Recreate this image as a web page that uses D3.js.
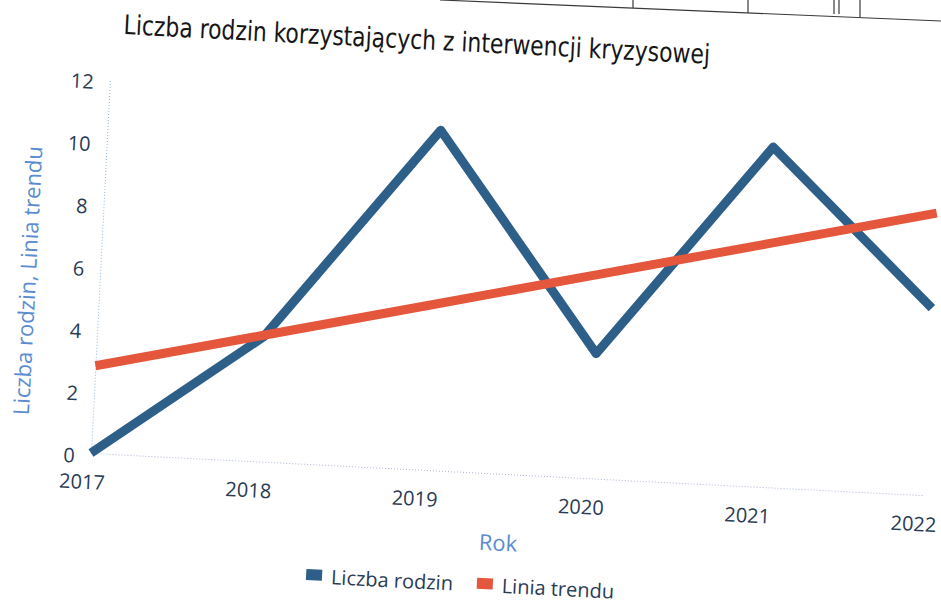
<!DOCTYPE html>
<html>
<head>
<meta charset="utf-8">
<script src="https://cdn.jsdelivr.net/npm/d3@7"></script>
<style>
  body { margin: 0; background: #fff; }
  svg { display: block; }
  .tick-label { font-family: "Open Sans", sans-serif; font-size: 20px; fill: #2a3b55; }
  .axis-label { font-family: "Open Sans", sans-serif; font-size: 22px; fill: #5b8bd0; }
  .title { font-family: "Liberation Sans Narrow", "DejaVu Sans Condensed", sans-serif; font-size: 27px; fill: #161616; }
  .legend-text { font-family: "Open Sans", sans-serif; font-size: 20px; fill: #2a3b55; }
</style>
</head>
<body>
<svg id="chart" width="941" height="606"></svg>
<script>
const YEARS = ["2017", "2018", "2019", "2020", "2021", "2022"];
const FAMILIES = [0, 4, 10.9, 4, 10.9, 6];
const TREND = [2.8, 4.05, 5.3, 6.55, 7.8, 9.05];
const Y_TICKS = [0, 2, 4, 6, 8, 10, 12];
const SERIES_NAMES = ["Liczba rodzin", "Linia trendu"];
const SERIES_COLORS = ["#2d5f88", "#e4573d"];

const ORIGIN = {x: 91, y: 453};   // page position of 2017 / 0
const TILT = 2.9;                  // the scanned sheet is turned slightly clockwise
const PLOT_WIDTH = 832.5;
const PLOT_HEIGHT = 374.4;

let x = d3.scalePoint().domain(YEARS).range([0, PLOT_WIDTH]);
let y = d3.scaleLinear().domain([0, 12]).range([0, -PLOT_HEIGHT]);

let svg = d3.select("#chart");

let chart = svg.append("g")
               .attr("transform", `translate(${ORIGIN.x},${ORIGIN.y}) rotate(${TILT})`);


/*
  Bits of the table printed above the chart on the scanned page.
*/
const buildPageEdge = () => {
  let edge = svg.append("g")
                .attr("fill", "none")
                .attr("stroke", "#3a3a3a")
                .attr("stroke-width", 1.2);

  edge.append("path").attr("d", "M440,0 L941,21");
  [[633, 8], [748, 13], [834, 14], [839, 14], [860, 17]].forEach(([px, py]) => {
    edge.append("path").attr("d", `M${px},0 L${px},${py}`);
  });
}


/*
  Renders the x-axis with its dotted base line and label.
*/
const buildXAxis = () => {
  let axis = chart.append("g")
                  .call(d3.axisBottom(x).tickSize(0).tickPadding(22));

  axis.select(".domain")
      .attr("stroke", "#aab6d6")
      .attr("stroke-dasharray", "1,2");

  axis.selectAll("text")
      .attr("class", "tick-label")
      .attr("dx", -8);

  chart.append("text")
       .attr("class", "axis-label")
       .attr("x", 411)
       .attr("y", 77)
       .attr("text-anchor", "middle")
       .text("Rok");
}


/*
  Renders the y-axis with its dotted line and label.
*/
const buildYAxis = () => {
  let axis = chart.append("g")
                  .call(d3.axisLeft(y).tickValues(Y_TICKS).tickSize(0).tickPadding(16));

  axis.select(".domain")
      .attr("stroke", "#8fb8e0")
      .attr("stroke-dasharray", "1,2");

  axis.selectAll("text")
      .attr("class", "tick-label")
      .attr("dy", "0.5em");

  chart.append("text")
       .attr("class", "axis-label")
       .attr("transform", "translate(-64,-169) rotate(-90)")
       .attr("text-anchor", "middle")
       .text("Liczba rodzin, Linia trendu");
}


/*
  Draws both series, the trend line on top.
*/
const buildLines = () => {
  let line = d3.line()
               .x((d, i) => x(YEARS[i]))
               .y(d => y(d));

  [FAMILIES, TREND].forEach((values, i) => {
    chart.append("path")
         .datum(values)
         .attr("d", line)
         .attr("fill", "none")
         .attr("stroke", SERIES_COLORS[i])
         .attr("stroke-width", 9)
         .attr("stroke-linejoin", "round")
         .attr("stroke-linecap", "butt");
  });
}


const buildTitle = () => {
  chart.append("text")
       .attr("class", "title")
       .attr("x", 11)
       .attr("y", -420)
       .attr("textLength", 587)
       .attr("lengthAdjust", "spacingAndGlyphs")
       .text("Liczba rodzin korzystających z interwencji kryzysowej");
}


/*
  Legend under the axis title.
*/
const buildLegend = () => {
  const ITEM_X = [229, 400];

  let legend = chart.append("g")
                    .selectAll(".legend")
                    .data(SERIES_NAMES).enter();

  legend.append("rect")
        .attr("x", (d, i) => ITEM_X[i] - 8)
        .attr("y", 105)
        .attr("width", 16)
        .attr("height", 11)
        .attr("fill", (d, i) => SERIES_COLORS[i]);

  legend.append("text")
        .attr("class", "legend-text")
        .attr("x", (d, i) => ITEM_X[i] + 17)
        .attr("y", 119)
        .text(d => d);
}


buildPageEdge();
buildXAxis();
buildYAxis();
buildLines();
buildTitle();
buildLegend();
</script>
</body>
</html>
